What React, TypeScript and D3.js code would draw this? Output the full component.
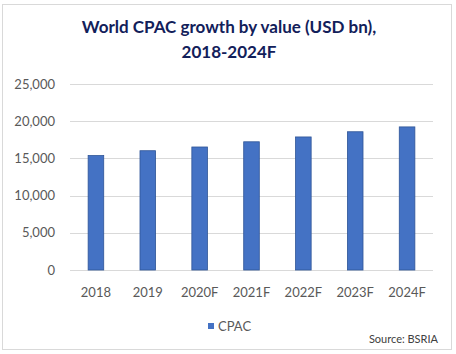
import React, { useRef, useEffect } from "react";
import * as d3 from "d3";

const years = ["2018", "2019", "2020F", "2021F", "2022F", "2023F", "2024F"];
const cpacValues = [15450, 16100, 16600, 17300, 17950, 18650, 19300];
const yTicks = [0, 5000, 10000, 15000, 20000, 25000];
const titleLines = ["World CPAC growth by value (USD bn),", "2018-2024F"];

function App() {
  const canvas = useRef<SVGSVGElement | null>(null);

  function drawChart() {
    const width = 456;
    const height = 354;
    const font = "Lato, 'Open Sans', sans-serif";

    const svg = d3.select(canvas.current).attr("width", width).attr("height", height);
    svg.selectAll("*").remove();

    svg
      .append("rect")
      .attr("x", 2.5)
      .attr("y", 4.5)
      .attr("width", 449)
      .attr("height", 345)
      .attr("fill", "#fff")
      .attr("stroke", "#d9d9d9");

    svg
      .append("g")
      .selectAll("text")
      .data(titleLines)
      .enter()
      .append("text")
      .attr("x", 229)
      .attr("y", (d, i) => 33 + i * 25)
      .attr("text-anchor", "middle")
      .style("font-family", font)
      .style("font-weight", "bold")
      .style("font-size", "17px")
      .attr("fill", "#12205a")
      .text((d) => d);

    const x = d3.scaleBand().domain(years).range([70, 433]).paddingInner(0.68).paddingOuter(0.34);
    const y = d3.scaleLinear().domain([0, 25000]).range([270, 84]);

    svg
      .append("g")
      .selectAll("line")
      .data(yTicks)
      .enter()
      .append("line")
      .attr("x1", 70)
      .attr("x2", 433)
      .attr("y1", (d) => Math.round(y(d)) + 0.5)
      .attr("y2", (d) => Math.round(y(d)) + 0.5)
      .attr("stroke", "#d9d9d9");

    svg
      .append("g")
      .selectAll("text")
      .data(yTicks)
      .enter()
      .append("text")
      .attr("x", 55)
      .attr("y", (d) => y(d) + 4.5)
      .attr("text-anchor", "end")
      .style("font-family", font)
      .style("font-size", "13px")
      .attr("fill", "#595959")
      .text((d) => d3.format(",")(d));

    svg
      .append("g")
      .selectAll("rect")
      .data(cpacValues)
      .enter()
      .append("rect")
      .attr("x", (d, i) => x(years[i])! + 0.5)
      .attr("y", (d) => y(d) + 0.5)
      .attr("width", x.bandwidth() - 1)
      .attr("height", (d) => y(0) - y(d) - 0.5)
      .attr("fill", "#4472c4")
      .attr("stroke", "#2f5597")
      .attr("stroke-width", 0.8);

    svg
      .append("g")
      .selectAll("text")
      .data(years)
      .enter()
      .append("text")
      .attr("x", (d) => x(d)! + x.bandwidth() / 2)
      .attr("y", 297)
      .attr("text-anchor", "middle")
      .style("font-family", font)
      .style("font-size", "13px")
      .attr("fill", "#595959")
      .text((d) => d);

    const legend = svg.append("g");
    legend
      .append("rect")
      .attr("x", 208)
      .attr("y", 323)
      .attr("width", 6)
      .attr("height", 6)
      .attr("fill", "#4472c4");
    legend
      .append("text")
      .attr("x", 218)
      .attr("y", 331)
      .style("font-family", font)
      .style("font-size", "13px")
      .attr("fill", "#595959")
      .text("CPAC");

    svg
      .append("text")
      .attr("x", 438)
      .attr("y", 343)
      .attr("text-anchor", "end")
      .style("font-family", font)
      .style("font-size", "11px")
      .attr("fill", "#404040")
      .text("Source: BSRIA");
  }

  useEffect(() => {
    drawChart();
  }, []);

  return (
    <div style={{ position: "absolute", left: 0, top: 0 }}>
      <svg ref={canvas}></svg>
    </div>
  );
}

export default App;
